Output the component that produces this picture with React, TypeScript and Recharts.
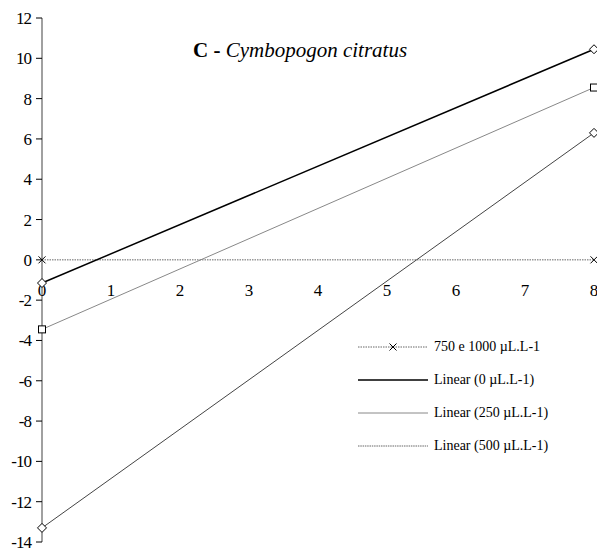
import { LineChart, Line, XAxis, YAxis, Legend, ReferenceDot } from "recharts";

const xValues = [0, 8];
const series0 = [-1.15, 10.45];
const series250 = [-3.45, 8.55];
const series500 = [-13.3, 6.3];
const series750 = [0, 0];

const xTicks = [0, 1, 2, 3, 4, 5, 6, 7, 8];
const yTicks = [-14, -12, -10, -8, -6, -4, -2, 0, 2, 4, 6, 8, 10, 12];

const legendNames = [
  "750 e 1000 µL.L-1",
  "Linear (0 µL.L-1)",
  "Linear (250 µL.L-1)",
  "Linear (500 µL.L-1)",
];

const data = xValues.map((x, i) => ({
  x,
  s0: series0[i],
  s250: series250[i],
  s500: series500[i],
  s750: series750[i],
}));

const FONT = "'Liberation Serif', 'Times New Roman', serif";

function Diamond(props: any) {
  const { cx, cy, index } = props;
  if (cx == null || cy == null) return null;
  const r = 4.5;
  return (
    <path
      key={`d-${index}`}
      d={`M${cx},${cy - r}L${cx + r},${cy}L${cx},${cy + r}L${cx - r},${cy}Z`}
      fill="#fff"
      stroke="#000"
      strokeWidth={1}
    />
  );
}

function Square(props: any) {
  const { cx, cy, index } = props;
  if (cx == null || cy == null) return null;
  const r = 3.5;
  return (
    <rect
      key={`s-${index}`}
      x={cx - r}
      y={cy - r}
      width={r * 2}
      height={r * 2}
      fill="#fff"
      stroke="#000"
      strokeWidth={1}
    />
  );
}

function Cross(props: any) {
  const { cx, cy, index } = props;
  if (cx == null || cy == null) return null;
  const r = 3.5;
  return (
    <path
      key={`x-${index}`}
      d={`M${cx - r},${cy - r}L${cx + r},${cy + r}M${cx - r},${cy + r}L${cx + r},${cy - r}`}
      stroke="#000"
      strokeWidth={1}
    />
  );
}

function YTick(props: any) {
  const { x, y, payload } = props;
  return (
    <text
      x={x}
      y={y}
      dy={6}
      textAnchor="end"
      fontFamily={FONT}
      fontSize={17}
      letterSpacing={-1}
      fill="#000"
    >
      {String(payload.value)}
    </text>
  );
}

function xLabel(value: number) {
  return (props: any) => {
    const vb = props.viewBox || {};
    const cx = (vb.x ?? 0) + (vb.width ?? 0) / 2;
    const cy = (vb.y ?? 0) + (vb.height ?? 0) / 2;
    return (
      <text
        x={cx}
        y={cy + 36}
        textAnchor="middle"
        fontFamily={FONT}
        fontSize={17}
        fill="#000"
      >
        {String(value)}
      </text>
    );
  };
}

function LegendBox() {
  const styles = [
    { stroke: "#666", dash: "1.5 1", width: 1, marker: true },
    { stroke: "#000", dash: undefined, width: 1.5, marker: false },
    { stroke: "#888", dash: undefined, width: 1, marker: false },
    { stroke: "#666", dash: "1.5 0.8", width: 1, marker: false },
  ];
  return (
    <div style={{ fontFamily: FONT, fontSize: 14, color: "#000" }}>
      {legendNames.map((name, i) => (
        <div key={name} style={{ display: "flex", alignItems: "center", height: 33 }}>
          <svg width={72} height={12} style={{ marginRight: 4 }}>
            <line
              x1={0}
              y1={6}
              x2={70}
              y2={6}
              stroke={styles[i].stroke}
              strokeWidth={styles[i].width}
              strokeDasharray={styles[i].dash}
            />
            {styles[i].marker && (
              <path d="M31.5,2.5L38.5,9.5M31.5,9.5L38.5,2.5" stroke="#000" strokeWidth={1} />
            )}
          </svg>
          <span>{name}</span>
        </div>
      ))}
    </div>
  );
}

export default function App() {
  return (
    <div
      style={{
        position: "absolute",
        left: 0,
        top: 0,
        width: 597,
        height: 553,
        background: "#fff",
        fontFamily: FONT,
      }}
    >
      <LineChart
        width={597}
        height={553}
        data={data}
        margin={{ top: 18, right: 3, bottom: 11, left: 0 }}
      >
        <XAxis dataKey="x" type="number" domain={[0, 8]} ticks={xTicks} hide />
        <YAxis
          type="number"
          domain={[-14, 12]}
          ticks={yTicks}
          interval={0}
          width={42}
          axisLine={{ stroke: "#808080", strokeWidth: 1.5 }}
          tickLine={{ stroke: "#000" }}
          tickSize={6}
          tickMargin={5}
          tick={YTick}
        />
        {xTicks.map((t) => (
          <ReferenceDot
            key={t}
            x={t}
            y={0}
            r={0}
            fill="none"
            stroke="none"
            label={{ content: xLabel(t) }}
          />
        ))}
        <Legend
          layout="vertical"
          align="center"
          verticalAlign="middle"
          content={() => <LegendBox />}
          wrapperStyle={{ left: 358, top: 330, width: "auto" }}
        />
        <Line
          dataKey="s750"
          type="linear"
          stroke="#666"
          strokeWidth={1}
          strokeDasharray="1.5 1"
          dot={Cross}
          isAnimationActive={false}
        />
        <Line
          dataKey="s500"
          type="linear"
          stroke="#444"
          strokeWidth={1}
          dot={Diamond}
          isAnimationActive={false}
        />
        <Line
          dataKey="s250"
          type="linear"
          stroke="#888"
          strokeWidth={1}
          dot={Square}
          isAnimationActive={false}
        />
        <Line
          dataKey="s0"
          type="linear"
          stroke="#000"
          strokeWidth={1.5}
          dot={Diamond}
          isAnimationActive={false}
        />
      </LineChart>
      <div
        style={{
          position: "absolute",
          left: 193,
          top: 38,
          fontFamily: FONT,
          fontSize: 21,
          color: "#000",
          whiteSpace: "nowrap",
        }}
      >
        <b>C -</b> <i>Cymbopogon citratus</i>
      </div>
    </div>
  );
}
